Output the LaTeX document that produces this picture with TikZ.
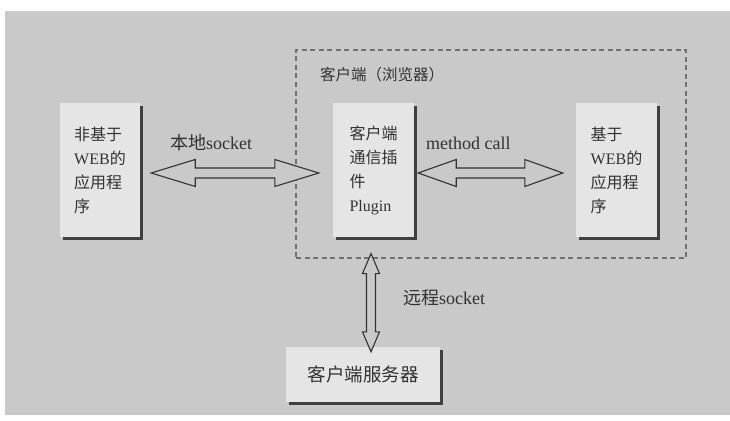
\documentclass[tikz,border=0pt]{standalone}
\usepackage{fontspec}
\setmainfont{Liberation Serif}
\newfontfamily\cjk{Noto Sans CJK SC}
\usetikzlibrary{calc,shadows}
\newcommand\zh[1]{{\cjk #1}}
\definecolor{bggray}{RGB}{201,201,201}
\definecolor{boxfill}{RGB}{229,229,229}
\definecolor{inkgray}{RGB}{50,50,50}
\definecolor{dashgray}{RGB}{112,112,112}
\tikzset{
  appbox/.style={fill=boxfill, draw=none, align=left, text=inkgray,
    font=\fontsize{16}{24}\selectfont,
    drop shadow={shadow xshift=2.5pt, shadow yshift=-2.5pt, fill=black!75, opacity=1}},
  dashbox/.style={draw=dashgray, line width=1.1pt, dash pattern=on 5pt off 3.5pt},
  fatarrow/.style={draw=inkgray, fill=bggray, line width=1.1pt, line join=miter},
  lbl/.style={text=inkgray, font=\fontsize{18}{20}\selectfont, anchor=west, inner sep=0pt},
}
\begin{document}
\begin{tikzpicture}[x=1pt,y=-1pt]
\useasboundingbox (0,0) rectangle (730,420);
\fill[bggray] (5,11) rectangle (730,415);
% dashed client box
\node[dashbox, minimum width=390pt, minimum height=208pt, inner sep=0pt] (B) at (491,154) {};
\node[text=inkgray, font=\fontsize{15.5}{18}\selectfont, anchor=west, inner sep=0pt] (T) at (320,75) {\zh{客户端（浏览器）}};
% boxes
\node[appbox, minimum width=80pt, minimum height=134pt] (L) at (100,170)
  {\zh{非基于}\\WEB\zh{的}\\\zh{应用程}\\\zh{序}};
\node[appbox, minimum width=81pt, minimum height=134pt] (C) at (373.5,170)
  {\zh{客户端}\\\zh{通信插}\\\zh{件}\\Plugin};
\node[appbox, minimum width=81pt, minimum height=134pt] (R) at (616.5,170)
  {\zh{基于}\\WEB\zh{的}\\\zh{应用程}\\\zh{序}};
\node[appbox, align=center, font=\fontsize{18.5}{22}\selectfont, minimum width=154pt, minimum height=55pt] (S) at (363,374.5)
  {\zh{客户端服务器}};
% left double arrow
\draw[fatarrow] let \p1=($(L.east)+(11,3)$), \p2=($(C.west)+(-14,3)$) in
  (\x1,\y1) -- (\x1+44pt,\y1+13.5pt) -- (\x1+44pt,\y1+5pt) -- (\x2-44pt,\y1+5pt) -- (\x2-44pt,\y1+13.5pt)
  -- (\x2,\y1) -- (\x2-44pt,\y1-13.5pt) -- (\x2-44pt,\y1-5pt) -- (\x1+44pt,\y1-5pt) -- (\x1+44pt,\y1-13.5pt) -- cycle;
% method call arrow
\draw[fatarrow] let \p1=($(C.east)+(4,3)$), \p2=($(R.west)+(-13,3)$) in
  (\x1,\y1) -- (\x1+38pt,\y1+13.5pt) -- (\x1+38pt,\y1+5pt) -- (\x2-38pt,\y1+5pt) -- (\x2-38pt,\y1+13.5pt)
  -- (\x2,\y1) -- (\x2-38pt,\y1-13.5pt) -- (\x2-38pt,\y1-5pt) -- (\x1+38pt,\y1-5pt) -- (\x1+38pt,\y1-13.5pt) -- cycle;
% vertical arrow
\draw[fatarrow] let \p1=($(B.south -| S.north)+(8,-5)$), \p2=($(S.north)+(8,5)$) in
  (\x1,\y1) -- (\x1+8.5pt,\y1-20pt) -- (\x1+4.5pt,\y1-20pt) -- (\x1+4.5pt,\y2+20pt) -- (\x1+8.5pt,\y2+20pt)
  -- (\x1,\y2) -- (\x1-8.5pt,\y2+20pt) -- (\x1-4.5pt,\y2+20pt) -- (\x1-4.5pt,\y1-20pt) -- (\x1-8.5pt,\y1-20pt) -- cycle;
% labels
\node[lbl] (l1) at (170,143) {\zh{本地}socket};
\node[lbl] (l2) at (426,143) {method call};
\node[lbl] (l3) at (403,298) {\zh{远程}socket};
\end{tikzpicture}
\end{document}
